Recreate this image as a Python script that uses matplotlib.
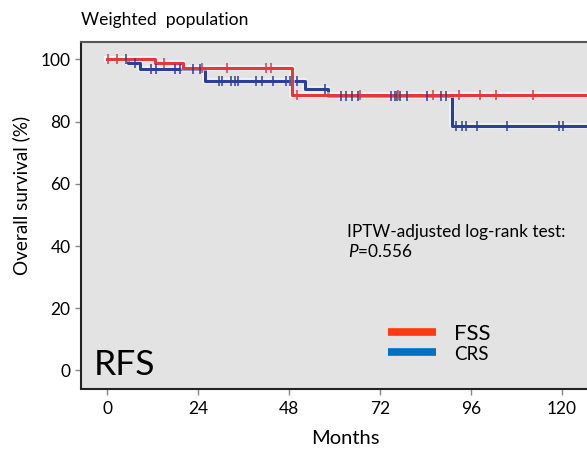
import numpy as np
import matplotlib
matplotlib.use("Agg")
import matplotlib.pyplot as plt
import matplotlib.patheffects as pe
from matplotlib.lines import Line2D

plt.rcParams["font.family"] = ["Lato", "DejaVu Sans"]
plt.rcParams["mathtext.fontset"] = "custom"
plt.rcParams["mathtext.it"] = "Lato:italic"
plt.rcParams["mathtext.rm"] = "Lato"

# ------------------- data -------------------
# step curves: time of each step [months] and survival after it [%]
fss_t = [0.0, 12.5, 20.0, 48.7]
fss_s = [100.0, 98.7, 97.1, 88.7]
fss_cens_t = [0.3, 2.7, 14.9, 24.9, 31.7, 41.8, 43.1, 50.0, 66.7, 76.8,
              85.9, 92.9, 98.3, 102.5, 112.4]

crs_t = [0.0, 5.4, 8.7, 25.9, 52.3, 58.3, 90.9]
crs_s = [100.0, 98.7, 97.0, 93.1, 90.6, 88.2, 78.6]
crs_cens_t = [4.9, 7.3, 11.5, 12.8, 18.0, 19.2, 22.7, 24.5, 29.6, 30.3,
              32.6, 33.7, 34.6, 39.2, 40.9, 43.8, 47.3, 48.2, 50.0, 57.6,
              61.7, 63.0, 64.5, 66.1, 74.8, 75.9, 76.6, 77.2, 79.2, 84.4,
              88.0, 89.3, 92.0, 93.7, 94.6, 97.5, 105.6, 119.3, 120.3]

X_END = 130.0
XTICKS = [0, 24, 48, 72, 96, 120]
YTICKS = [0, 20, 40, 60, 80, 100]

RED = "#e5383b"
BLUE = "#2c3f98"
LEG_RED = "#ff3a10"
LEG_BLUE = "#0070c0"


def step_value(times, surv, t):
    idx = np.searchsorted(times, t, side="right") - 1
    return np.asarray(surv)[idx]


fig = plt.figure(figsize=(5.87, 4.5), dpi=100)
ax = fig.add_axes([81 / 587, 1 - 388.5 / 450, 506 / 587, 346.5 / 450])
ax.set_facecolor("#e3e3e3")

halo = [pe.Stroke(linewidth=4.2, foreground="white", alpha=0.55), pe.Normal()]

for t, s, ct, col in [(crs_t, crs_s, crs_cens_t, BLUE),
                      (fss_t, fss_s, fss_cens_t, RED)]:
    tt = list(t) + [X_END]
    ss = list(s) + [s[-1]]
    ax.step(tt, ss, where="post", color=col, lw=2.2, path_effects=halo,
            zorder=3)
    ax.plot(ct, step_value(t, s, ct), ls="none", marker="|", ms=6.5,
            mew=1.1, color=col, zorder=4)

ax.set_xlim(-6.9, 126.6)
ax.set_ylim(-5.8, 105.6)
ax.set_xticks(XTICKS)
ax.set_yticks(YTICKS)
ax.tick_params(axis="both", direction="out", length=4.5, width=1,
               color="#888888", labelsize=12.5, pad=3)
ax.tick_params(axis="x", pad=4.5)

for side in ["left", "bottom"]:
    ax.spines[side].set_color("#222222")
    ax.spines[side].set_linewidth(1.5)
ax.spines["top"].set_color("#555555")
ax.spines["top"].set_linewidth(1.5)
ax.spines["right"].set_visible(False)

ax.text(0.026, 0.039, "RFS", transform=ax.transAxes, fontsize=25.5,
        ha="left", va="baseline")
ax.text(0.526, 0.437, "IPTW-adjusted log-rank test:", transform=ax.transAxes,
        fontsize=12.4, ha="left", va="baseline")
ax.text(0.528, 0.380, "$P$=0.556", transform=ax.transAxes,
        fontsize=12.4, ha="left", va="baseline")

handles = [Line2D([], [], color=LEG_RED, lw=5.5, solid_capstyle="butt"),
           Line2D([], [], color=LEG_BLUE, lw=5.5, solid_capstyle="butt")]
leg = ax.legend(handles, ["FSS", "CRS"], loc="upper left",
                bbox_to_anchor=(0.607, 0.186), frameon=False, fontsize=16,
                handlelength=2.16, handletextpad=0.8, labelspacing=0.03,
                borderpad=0, borderaxespad=0)
leg.get_texts()[1].set_fontsize(13.5)

fig.text(81 / 587, 1 - 20 / 450, "Weighted  population", fontsize=12.6,
         ha="left", va="center")
fig.text(21.7 / 587, 1 - 195 / 450, "Overall survival (%)", fontsize=13.6,
         rotation=90, ha="center", va="center")
fig.text(345 / 587, 1 - 438 / 450, "Months", fontsize=14.5,
         ha="center", va="center")

fig.savefig("out.png", dpi=100)
